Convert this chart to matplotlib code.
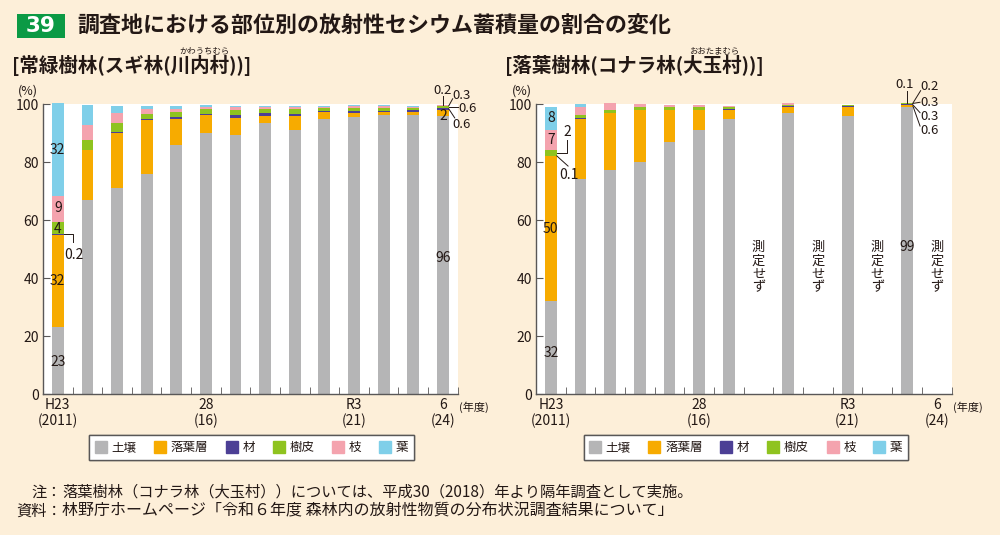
import numpy as np
import matplotlib
matplotlib.use("Agg")
import matplotlib.pyplot as plt
from matplotlib.lines import Line2D
from matplotlib.patches import Rectangle

plt.rcParams['font.family'] = ['Noto Sans CJK JP', 'DejaVu Sans']

# data (% of total cesium stock), fiscal years 2011..2024
years      = list(range(2011, 2025))
tick_pos   = [0, 5, 10, 13]
tick_lbl   = ["H23\n(2011)", "28\n(16)", "R3\n(21)", "6\n(24)"]
parts      = ["土壌", "落葉層", "材", "樹皮", "枝", "葉"]
colors     = ["#b5b5b6", "#f7ab00", "#4c3f95", "#8fc31f", "#f4a3ae", "#7fcfe9"]

# evergreen: cedar, Kawauchi
cedar_soil   = [23, 67, 71, 76, 86, 90, 89.4, 93.5, 91.2, 94.8, 95.4, 96.3, 96.3, 96]
cedar_litter = [32, 17, 19, 18.4, 8.9, 6.1, 5.9, 2.5, 4.6, 2.3, 1.5, 0.9, 0.9, 2]
cedar_wood   = [0.2, 0.3, 0.5, 0.5, 0.5, 0.6, 1.0, 0.9, 0.9, 0.6, 0.8, 0.5, 0.6, 0.6]
cedar_bark   = [4, 3.2, 3.1, 1.7, 1.8, 1.5, 1.7, 1.4, 1.7, 0.8, 1.0, 0.9, 0.8, 0.6]
cedar_branch = [9, 5.1, 3.2, 1.6, 1.0, 0.8, 0.9, 0.7, 0.7, 0.5, 0.5, 0.6, 0.5, 0.3]
cedar_leaf   = [32, 7.1, 2.5, 1.1, 1.1, 0.5, 0.5, 0.3, 0.3, 0.4, 0.3, 0.4, 0.3, 0.2]

# deciduous: konara oak, Otama (None = not measured)
oak_soil   = [32, 74, 77.1, 80, 87, 91, 94.9, None, 97, None, 95.7, None, 99, None]
oak_litter = [50, 21, 19.8, 18, 10.9, 7, 3.2, None, 2.1, None, 3.4, None, 0.6, None]
oak_wood   = [0.1, 0.1, 0.1, 0.1, 0.1, 0.1, 0.3, None, 0.2, None, 0.3, None, 0.3, None]
oak_bark   = [2, 1, 1, 0.7, 0.8, 0.7, 0.4, None, 0.3, None, 0.2, None, 0.3, None]
oak_branch = [7, 3, 2.2, 1.1, 0.7, 0.7, 0.5, None, 0.8, None, 0.1, None, 0.2, None]
oak_leaf   = [8, 1, 0.1, 0, 0, 0, 0.1, None, 0, None, 0, None, 0.1, None]

bg     = "#fdefd9"
ink    = "#231815"
axis_c = "#595757"
W      = 0.4


def px(x, y):
    return x / 1000, 1 - y / 535


def stack(ax, series):
    arr = np.array([[np.nan if v is None else v for v in s] for s in series], dtype=float)
    x = np.arange(arr.shape[1])
    ok = ~np.isnan(arr[0])
    bottom = np.zeros(ok.sum())
    for vals, c in zip(arr, colors):
        ax.bar(x[ok], vals[ok], W, bottom=bottom, color=c, linewidth=0, clip_on=False, zorder=2)
        bottom += vals[ok]


def setup(ax):
    ax.set_facecolor("white")
    ax.set_xlim(-0.5, 13.5)
    ax.set_ylim(0, 100)
    for s in ["top", "right"]:
        ax.spines[s].set_visible(False)
    for s in ["left", "bottom"]:
        ax.spines[s].set_color(axis_c)
        ax.spines[s].set_linewidth(1.0)
    ax.set_yticks(range(0, 101, 20))
    ax.tick_params(axis="y", direction="in", length=5, color=axis_c, labelsize=10,
                   labelcolor=ink, pad=3)
    ax.set_xticks(tick_pos)
    ax.set_xticklabels(tick_lbl, fontsize=10, color=ink, linespacing=1.15)
    ax.tick_params(axis="x", which="major", length=0, pad=3)
    ax.set_xticks(np.arange(-0.5, 13.6, 1), minor=True)
    ax.tick_params(axis="x", which="minor", direction="in", length=5, color=axis_c)
    ax.text(1.004, -0.045, "(年度)", transform=ax.transAxes, fontsize=8, color=ink,
            ha="left", va="center", clip_on=False)


def note(ax, x, y, s, ha="center", size=10):
    ax.text(x, y, s, ha=ha, va="center", fontsize=size, color=ink, clip_on=False, zorder=4)


def leader(ax, xs, ys):
    ax.plot(xs, ys, color=ink, lw=0.7, clip_on=False, zorder=4)


fig = plt.figure(figsize=(10, 5.35), dpi=100, facecolor=bg)

ax1 = fig.add_axes([0.043, 1 - 394 / 535, 0.4147, 290 / 535])
ax2 = fig.add_axes([0.536, 1 - 394 / 535, 0.4155, 290 / 535])
setup(ax1)
setup(ax2)

stack(ax1, [cedar_soil, cedar_litter, cedar_wood, cedar_bark, cedar_branch, cedar_leaf])
stack(ax2, [oak_soil, oak_litter, oak_wood, oak_bark, oak_branch, oak_leaf])

# labels, left chart
note(ax1, 0, 11, "23")
note(ax1, 0, 39, "32")
note(ax1, 0, 57, "4")
note(ax1, 0, 64, "9")
note(ax1, 0, 84, "32")
leader(ax1, [0.2, 0.5, 0.5], [55.1, 55.1, 52.3])
note(ax1, 0.55, 48, "0.2")
note(ax1, 13, 46.8, "96")
note(ax1, 13, 96, "2")
leader(ax1, [13.0, 13.0], [99.7, 102.6])
note(ax1, 13.0, 104.8, "0.2", size=9.5)
leader(ax1, [13.2, 13.33], [99.4, 101.8])
note(ax1, 13.32, 103, "0.3", ha="left", size=9.5)
leader(ax1, [13.2, 13.5], [98.9, 98.9])
note(ax1, 13.52, 98.5, "0.6", ha="left", size=9.5)
leader(ax1, [13.2, 13.4], [98.3, 95.2])
note(ax1, 13.33, 93, "0.6", ha="left", size=9.5)

# labels, right chart
note(ax2, 0, 14, "32")
note(ax2, 0, 57, "50")
note(ax2, 0, 87.6, "7")
note(ax2, 0, 95.1, "8")
leader(ax2, [0.2, 0.55, 0.55], [83.1, 83.1, 87.5])
note(ax2, 0.55, 90.5, "2")
leader(ax2, [0.2, 0.58], [82.1, 78.6])
note(ax2, 0.61, 75.6, "0.1")
note(ax2, 12, 50.7, "99")
leader(ax2, [12.0, 12.0], [100.5, 104.5])
note(ax2, 11.93, 106.6, "0.1", size=9.5)
leader(ax2, [12.2, 12.46], [100.3, 104.6])
note(ax2, 12.44, 106.0, "0.2", ha="left", size=9.5)
leader(ax2, [12.2, 12.44], [100.2, 100.6])
note(ax2, 12.44, 100.6, "0.3", ha="left", size=9.5)
leader(ax2, [12.2, 12.44], [99.7, 97.0])
note(ax2, 12.44, 95.8, "0.3", ha="left", size=9.5)
leader(ax2, [12.2, 12.44], [99.3, 92.4])
note(ax2, 12.44, 90.9, "0.6", ha="left", size=9.5)
for i, v in enumerate(oak_soil):
    if v is None:
        ax2.text(i, 43.5, "測\n定\nせ\nず", ha="center", va="center", fontsize=9.5,
                 color=ink, linespacing=1.05)

# (%) labels
fig.text(*px(28, 91), "(%)", ha="center", va="center", fontsize=9, color=ink)
fig.text(*px(522, 91), "(%)", ha="center", va="center", fontsize=9, color=ink)

# title
fig.patches.append(Rectangle(px(17, 38), 48 / 1000, 24 / 535, transform=fig.transFigure,
                             facecolor="#0b9a45", edgecolor="none"))
fig.text(*px(41, 26.5), "39", ha="center", va="center", fontsize=15.5, color="white",
         fontweight="bold", family="DejaVu Sans")
fig.text(*px(77, 26), "調査地における部位別の放射性セシウム蓄積量の割合の変化", ha="left",
         va="center", fontsize=15.8, fontweight="bold", color=ink)

# subtitles with furigana
fig.text(*px(12, 65), "[常緑樹林(スギ林(川内村))]", ha="left", va="center", fontsize=14,
         fontweight="bold", color=ink)
fig.text(*px(204, 51), "かわうちむら", ha="center", va="center", fontsize=6, color=ink)
fig.text(*px(505, 65), "[落葉樹林(コナラ林(大玉村))]", ha="left", va="center", fontsize=14,
         fontweight="bold", color=ink)
fig.text(*px(714, 51), "おおたまむら", ha="center", va="center", fontsize=6, color=ink)

# legends
handles = [Line2D([0], [0], marker="s", linestyle="none", markersize=8, markerfacecolor=c,
                  markeredgecolor=c, label=p) for p, c in zip(parts, colors)]
for cx in [251.5 / 1000, 746 / 1000]:
    leg = fig.legend(handles=handles, loc="center", bbox_to_anchor=(cx, 1 - 447.5 / 535),
                     ncol=6, fontsize=9, frameon=True, fancybox=False, framealpha=1,
                     edgecolor=axis_c, handlelength=0.9, handletextpad=0.4,
                     columnspacing=1.45, borderpad=0.45)
    leg.get_frame().set_linewidth(1.0)
    for t in leg.get_texts():
        t.set_color(ink)
    fig.add_artist(leg)

# notes
fig.text(*px(62, 492), "注：", ha="right", va="center", fontsize=11, color=ink)
fig.text(*px(62, 492), "落葉樹林（コナラ林（大玉村））については、平成30（2018）年より隔年調査として実施。",
         ha="left", va="center", fontsize=11, color=ink)
fig.text(*px(62, 511), "資料：", ha="right", va="center", fontsize=11, color=ink)
fig.text(*px(62, 511), "林野庁ホームページ「令和６年度 森林内の放射性物質の分布状況調査結果について」",
         ha="left", va="center", fontsize=11.5, color=ink)

fig.savefig("out.png", dpi=100, facecolor=bg)
